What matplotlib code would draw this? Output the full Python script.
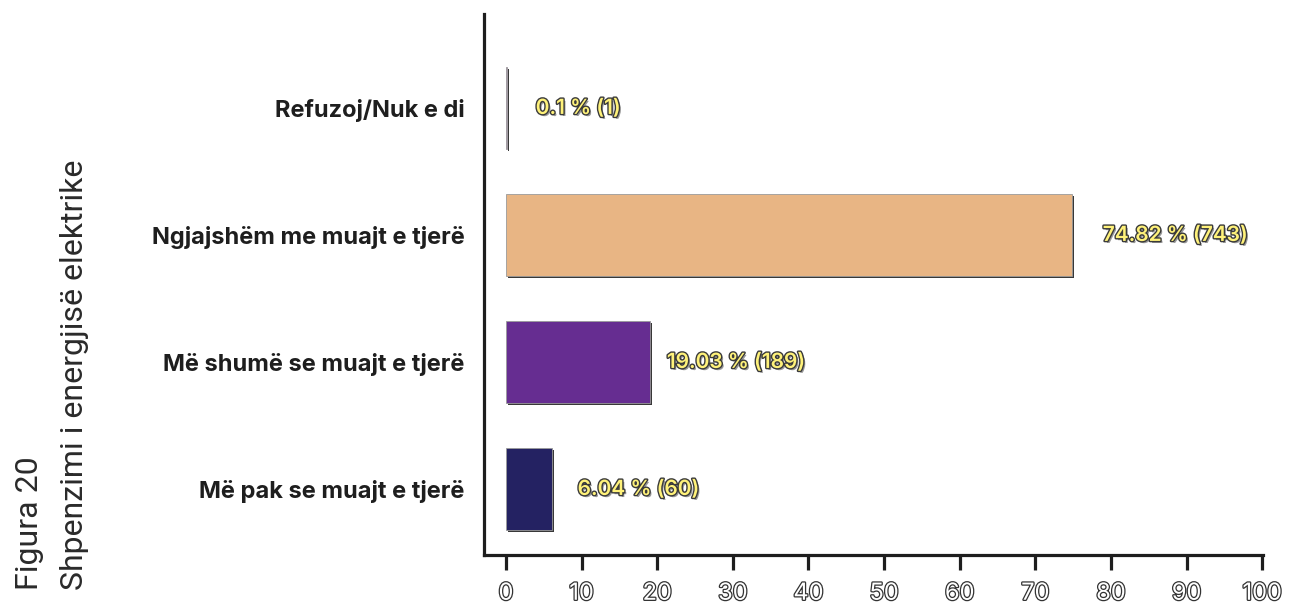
import matplotlib
matplotlib.use("Agg")
import matplotlib.pyplot as plt
import matplotlib.patheffects as pe

# Survey responses: electricity consumption compared with other months
categories = ["Më pak se muajt e tjerë", "Më shumë se muajt e tjerë",
              "Ngjajshëm me muajt e tjerë", "Refuzoj/Nuk e di"]
percent = [6.04, 19.03, 74.82, 0.1]
counts = [60, 189, 743, 1]
bar_colors = ["#242262", "#662D91", "#E8B584", "#A35BA6"]
x_ticks = [0, 10, 20, 30, 40, 50, 60, 70, 80, 90, 100]

# per-label horizontal gap (pixels) between bar end and its value label
label_pad = [26, 17, 31, 29]

fig = plt.figure(figsize=(12.89, 6.06), dpi=100)
ax = fig.add_axes([0.3755, 0.0842, 0.9798 - 0.3755, 0.977 - 0.0842])

ypos = list(range(len(categories)))
bars = ax.barh(ypos, percent, height=0.65, color=bar_colors,
               edgecolor="#9a9a9a", linewidth=0.6)
for b in bars:
    b.set_path_effects([
        pe.SimplePatchShadow(offset=(1.6, -1.6), shadow_rgbFace="#222222", alpha=0.9),
        pe.Normal(),
    ])

ax.set_xlim(-2.9, 100.1)
ax.set_ylim(-0.52, 3.74)

for s in ["top", "right"]:
    ax.spines[s].set_visible(False)
for s in ["left", "bottom"]:
    ax.spines[s].set_linewidth(2.3)
    ax.spines[s].set_color("#1e1e1e")

ax.set_xticks(x_ticks)
ax.set_xticklabels([str(t) for t in x_ticks])
ax.tick_params(axis="x", length=11, width=2.3, color="#1e1e1e", pad=9,
               labelsize=17)
for lab in ax.get_xticklabels():
    lab.set_color("white")
    lab.set_family(["Inter", "DejaVu Sans"])
    lab.set_path_effects([pe.Stroke(linewidth=1.8, foreground="#333333"), pe.Normal()])

ax.set_yticks(ypos)
ax.set_yticklabels(categories)
ax.tick_params(axis="y", length=0, pad=14, labelsize=17)
for lab in ax.get_yticklabels():
    lab.set_family(["Inter", "DejaVu Sans"])
    lab.set_fontweight("bold")
    lab.set_color("#1e1e1e")

# value labels on each bar
for y, v, n, p in zip(ypos, percent, counts, label_pad):
    ax.annotate(f"{v} % ({n})", xy=(v, y), xytext=(p, 0),
                textcoords="offset pixels", ha="left", va="center",
                fontsize=15, fontweight="semibold", color="#FFF27A",
                family=["Inter", "DejaVu Sans"],
                path_effects=[
                    pe.SimplePatchShadow(offset=(1.5, -1.5), shadow_rgbFace="#555555", alpha=0.6),
                    pe.Stroke(linewidth=2.0, foreground="#3a3a3a"),
                    pe.Normal(),
                ])

# rotated figure caption on the left
cap_font = ["Liberation Sans Narrow", "Roboto", "DejaVu Sans"]
fig.text(30 / 1289, 1 - 590 / 606, "Figura 20", rotation=90, ha="center",
         va="bottom", fontsize=23, color="#2a2a2a", family=cap_font)
fig.text(75 / 1289, 1 - 590 / 606, "Shpenzimi i energjisë elektrike", rotation=90,
         ha="center", va="bottom", fontsize=23, color="#2a2a2a", family=cap_font)

fig.savefig("out.png", dpi=100)
